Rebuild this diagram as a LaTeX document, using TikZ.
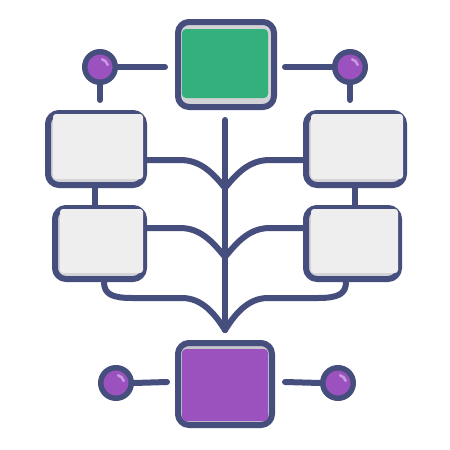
\documentclass[tikz,border=0pt]{standalone}
\usetikzlibrary{calc}
\definecolor{navy}{HTML}{454E7C}
\definecolor{gr}{HTML}{34B07D}
\definecolor{pu}{HTML}{9B52BE}
\definecolor{lite}{HTML}{EEEEEF}
\definecolor{bev}{HTML}{D3D3D7}
\definecolor{bev2}{HTML}{C6C6CA}
\definecolor{hl}{HTML}{C79BE0}
\begin{document}
\begin{tikzpicture}[x=1pt,y=-1pt,
  line cap=round, line join=round,
  wire/.style={draw=navy, line width=6pt},
  box/.style={draw=navy, line width=6pt, rounded corners=11pt, inner sep=0pt, fill=bev},
  dot/.style={circle, draw=navy, line width=5.5pt, fill=pu, minimum size=30.5pt, inner sep=0pt},
  hlarc/.style={draw=hl, line width=2.5pt}]
\useasboundingbox[fill=white] (0,0) rectangle (450,450);
% boxes
\node[box, minimum width=96pt, minimum height=85pt] (top) at (226,64.5) {};
\node[box, minimum width=94pt, minimum height=82pt, fill=bev2] (bot) at (225,384) {};
\node[box, minimum width=96pt, minimum height=72pt] (tl) at (96,149) {};
\node[box, minimum width=98pt, minimum height=72pt] (tr) at (355,149) {};
\node[box, minimum width=89pt, minimum height=71pt] (ll) at (99.5,243.5) {};
\node[box, minimum width=93pt, minimum height=71pt] (lr) at (352.5,243.5) {};
% inner fills
\fill[gr, rounded corners=4pt] ($(top.north west)+(7,10)$) rectangle ($(top.south east)+(-9,-12)$);
\fill[pu, rounded corners=4pt] ($(bot.north west)+(7,9)$) rectangle ($(bot.south east)+(-7,-7)$);
\foreach \b in {tl,tr,ll,lr}{
  \fill[lite, rounded corners=3pt] ($(\b.north west)+(8,4)$) rectangle ($(\b.south east)+(-4,-9)$);
}
% circles
\node[dot] (c1) at (100,67) {};
\node[dot] (c2) at (350,67) {};
\node[dot] (c3) at (116,383) {};
\node[dot] (c4) at (338,383) {};
\foreach \c in {c1,c2,c3,c4}{
  \draw[hlarc] (\c) ++(-15:8) arc[start angle=-15, end angle=-75, radius=8];
}
% coordinates
\coordinate (e1) at (165,67);
\coordinate (e2) at (285,67);
\coordinate (e3) at (167,382);
\coordinate (e4) at (285,382);
\coordinate (d1) at (100,100);
\coordinate (d2) at (350,100);
\coordinate (tt) at (225,120);
\coordinate (tb) at (225,330);
\coordinate (j1) at (225,188);
\coordinate (j2) at (225,257);
% circle connectors
\draw[wire] (c1.east) -- (e1);
\draw[wire] (c2.west) -- (e2);
\draw[wire] (c3.east) -- (e3);
\draw[wire] (c4.west) -- (e4);
\draw[wire] (c1.south) -- (d1);
\draw[wire] (c2.south) -- (d2);
% box links
\draw[wire] (tl.south -| 95,0) -- (ll.north -| 95,0);
\draw[wire] (tr.south -| 355,0) -- (lr.north -| 355,0);
% trunk
\draw[wire] (tt) -- (tb);
% branches
\draw[wire] (tl.east |- 0,160) -- (180,160) .. controls (200,160) and (212,172) .. (j1);
\draw[wire] (tr.west |- 0,160) -- (270,160) .. controls (250,160) and (238,172) .. (j1);
\draw[wire] (ll.east |- 0,228) -- (180,228) .. controls (200,228) and (212,241) .. (j2);
\draw[wire] (lr.west |- 0,228) -- (270,228) .. controls (250,228) and (238,241) .. (j2);
\draw[wire] (ll.south -| 104,0) .. controls (104,294) and (112,298) .. (132,298) -- (182,298) .. controls (202,298) and (215,314) .. (tb);
\draw[wire] (lr.south -| 346,0) .. controls (346,294) and (338,298) .. (318,298) -- (268,298) .. controls (248,298) and (235,314) .. (tb);
\end{tikzpicture}
\end{document}
